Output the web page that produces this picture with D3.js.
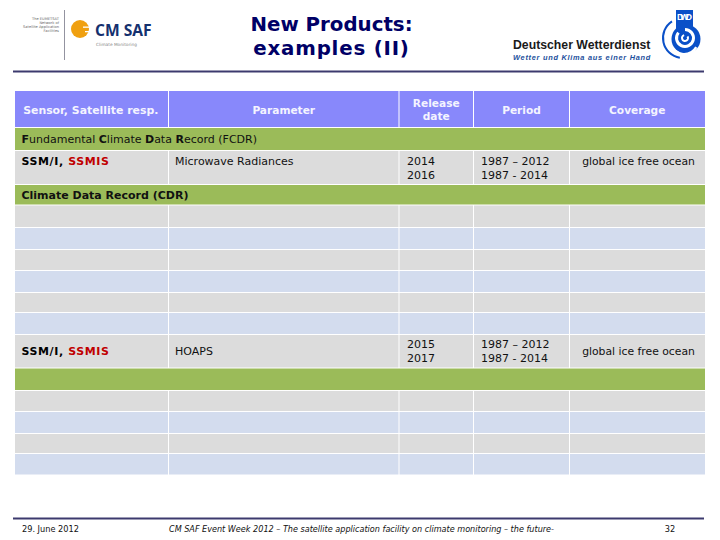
<!DOCTYPE html>
<html><head><meta charset="utf-8">
<script src="https://cdn.jsdelivr.net/npm/d3@7"></script>
<style>html,body{margin:0;padding:0;background:#fff}svg{display:block}text{font-family:"DejaVu Sans",Verdana,sans-serif}</style>
</head><body><svg id="c" width="720" height="540"></svg>
<script>
const titleLines = ["New Products:", "examples (II)"];
const columns = ["Sensor, Satellite resp.", "Parameter", ["Release", "date"], "Period", "Coverage"];
const rowKinds = ["head","green","gray","green","gray","blue","gray","blue","gray","blue","gray","green","gray","blue","gray","blue"];
const sections = [{row:1, parts:[["F",1],["undamental ",0],["C",1],["limate ",0],["D",1],["ata ",0],["R",1],["ecord (FCDR)",0]]},
                  {row:3, parts:[["Climate Data Record (CDR)",1]]}];
const sensorA = "SSM/I, ", sensorB = "SSMIS";
const products = [
 {row:2, param:"Microwave Radiances", release:["2014","2016"], period:["1987 – 2012","1987 - 2014"], coverage:"global ice free ocean", top:true},
 {row:10, param:"HOAPS", release:["2015","2017"], period:["1987 – 2012","1987 - 2014"], coverage:"global ice free ocean", top:false}
];
const footer = ["29. June 2012", "CM SAF Event Week 2012 – The satellite application facility on climate monitoring – the future-", "32"];

const colEdges = [15,168.5,399,473.5,569.5,705];
const rowEdges = [91,127.5,150.5,184.5,205,227.5,249.5,270.5,292.5,312.5,334.5,368,390.5,411.5,433.5,453.5,475];
const x = d3.scaleLinear().domain(d3.range(colEdges.length)).range(colEdges);
const y = d3.scaleLinear().domain(d3.range(rowEdges.length)).range(rowEdges);
const fill = d3.scaleOrdinal().domain(["head","green","gray","blue"]).range(["#8888fb","#9bbb59","#dcdcdc","#d3dcee"]);
const svg = d3.select("#c");

// rules
svg.selectAll("line.rule").data([71.5,518.5]).join("line").attr("class","rule")
  .attr("x1",13).attr("x2",704).attr("y1",d=>d).attr("y2",d=>d)
  .attr("stroke","#3c3a6e").attr("stroke-width",2);

// title
svg.selectAll("text.title").data(titleLines).join("text").attr("class","title")
  .attr("x",331.5).attr("y",(d,i)=>31+i*24).attr("text-anchor","middle")
  .attr("font-size",19.8).attr("font-weight","bold").attr("fill","#000066")
  .attr("letter-spacing",(d,i)=>i?0.8:0).text(d=>d);

// cells
rowKinds.forEach((k,r)=>{
  const span = k==="green";
  const cols = span ? [[0,5]] : d3.range(5).map(c=>[c,c+1]);
  svg.append("g").selectAll("rect").data(cols).join("rect")
    .attr("x",d=>x(d[0])+(d[0]?.5:0)).attr("width",d=>x(d[1])-x(d[0])-(d[0]?.5:0)-(d[1]<5?.5:0))
    .attr("y",y(r)+(r?.5:0)).attr("height",y(r+1)-y(r)-(r?.5:0)-.5)
    .attr("fill",fill(k));
});

// header
const headFill="#f4f4ff";
columns.forEach((c,i)=>{
  const cx=(x(i)+x(i+1))/2, lines=Array.isArray(c)?c:[c];
  lines.forEach((t,j)=>svg.append("text").attr("x",cx-(i===0?1:0)).attr("y",(y(0)+y(1))/2+(lines.length>1?4:5)+(j-(lines.length-1)/2)*13.5)
    .attr("text-anchor","middle").attr("font-size",i===0?10.9:10.6).attr("font-weight","bold").attr("fill",headFill).text(t));
});

// section labels
sections.forEach(s=>{
  const t=svg.append("text").attr("x",21.5).attr("y",(y(s.row)+y(s.row+1))/2+4).attr("font-size",11).attr("fill","#111");
  s.parts.forEach(p=>t.append("tspan").attr("font-weight",p[1]?"bold":"normal").text(p[0]));
});

// products
const bodySize=11;
products.forEach(p=>{
  const mid=(y(p.row)+y(p.row+1))/2;
  const single=p.top? y(p.row)+14 : mid+4;
  const dbl=p.top? [y(p.row)+14,y(p.row)+28] : [mid-3,mid+11];
  const s=svg.append("text").attr("x",21.5).attr("y",single).attr("font-size",bodySize).attr("font-weight","bold").attr("fill","#000").attr("letter-spacing",.6);
  s.append("tspan").text(sensorA); s.append("tspan").attr("fill","#c00000").text(sensorB);
  svg.append("text").attr("x",175).attr("y",single).attr("font-size",bodySize).attr("fill","#111").text(p.param);
  p.release.forEach((t,j)=>svg.append("text").attr("x",407).attr("y",dbl[j]).attr("font-size",bodySize).attr("fill","#111").text(t));
  p.period.forEach((t,j)=>svg.append("text").attr("x",481).attr("y",dbl[j]).attr("font-size",bodySize).attr("fill","#111").text(t));
  svg.append("text").attr("x",638.5).attr("y",single).attr("text-anchor","middle").attr("font-size",10.8).attr("fill","#111").text(p.coverage);
});

// footer
svg.append("text").attr("x",22).attr("y",532).attr("font-size",8.2).attr("fill","#111").text(footer[0]);
svg.append("text").attr("x",169).attr("y",532).attr("font-size",8.1).attr("font-style","italic").attr("fill","#111").text(footer[1]);
svg.append("text").attr("x",670).attr("y",532).attr("text-anchor","middle").attr("font-size",8.2).attr("fill","#111").text(footer[2]);

// CM SAF logo
const small=["The EUMETSAT","Network of","Satellite Application","Facilities"];
svg.selectAll("text.sm").data(small).join("text").attr("class","sm").attr("x",59).attr("y",(d,i)=>19.5+i*4.2)
  .attr("text-anchor","end").attr("font-size",3.6).attr("fill","#666").text(d=>d);
svg.append("line").attr("x1",64.5).attr("x2",64.5).attr("y1",10).attr("y2",60).attr("stroke","#778").attr("stroke-width",.8);
svg.append("circle").attr("cx",80).attr("cy",29).attr("r",9).attr("fill","#f0a010");
svg.append("rect").attr("x",83).attr("y",26.5).attr("width",8).attr("height",1.3).attr("fill","#fff");
svg.append("rect").attr("x",85).attr("y",31).attr("width",6).attr("height",1.3).attr("fill","#fff");
svg.append("text").attr("x",95).attr("y",36).attr("font-size",15.6).attr("font-weight","bold").attr("fill","#14306e").style("font-family","'Open Sans',sans-serif").text("CM SAF");
svg.append("text").attr("x",96).attr("y",45.5).attr("font-size",4.3).attr("fill","#888").text("Climate Monitoring");

// DWD logo
svg.append("text").attr("x",513).attr("y",48.5).attr("font-size",12.25).attr("font-weight","bold").attr("fill","#1a1a1a").style("font-family","'Liberation Sans',sans-serif").text("Deutscher Wetterdienst");
svg.append("text").attr("x",513).attr("y",59.5).attr("font-size",7.4).attr("letter-spacing",0.72).attr("font-weight","bold").attr("font-style","italic").attr("fill","#1c4f9c").style("font-family","'Liberation Sans',sans-serif").text("Wetter und Klima aus einer Hand");
const blue="#0a50c8";
svg.append("circle").attr("cx",686).attr("cy",39).attr("r",14.5).attr("fill",blue);
svg.append("rect").attr("x",676).attr("y",10).attr("width",17).attr("height",22).attr("fill",blue);
svg.append("text").attr("x",684.5).attr("y",19.5).attr("text-anchor","middle").attr("font-size",9).attr("font-weight","bold").attr("fill","#fff").style("font-family","'Liberation Sans',sans-serif").attr("textLength",15).text("DWD");
const ring=(r0,r1,a0,a1,cx,cy,col)=>svg.append("path").attr("d",d3.arc()({innerRadius:r0,outerRadius:r1,startAngle:a0,endAngle:a1})).attr("transform",`translate(${cx},${cy})`).attr("fill",col);
ring(19,21,3.3,5.7,683,38,blue);
ring(7,10,0,5.4,685,38,"#fff");
ring(2,4,1,6,685,38,"#fff");
ring(13,15.5,2.1,4.2,684,40,"#fff");
</script></body></html>
